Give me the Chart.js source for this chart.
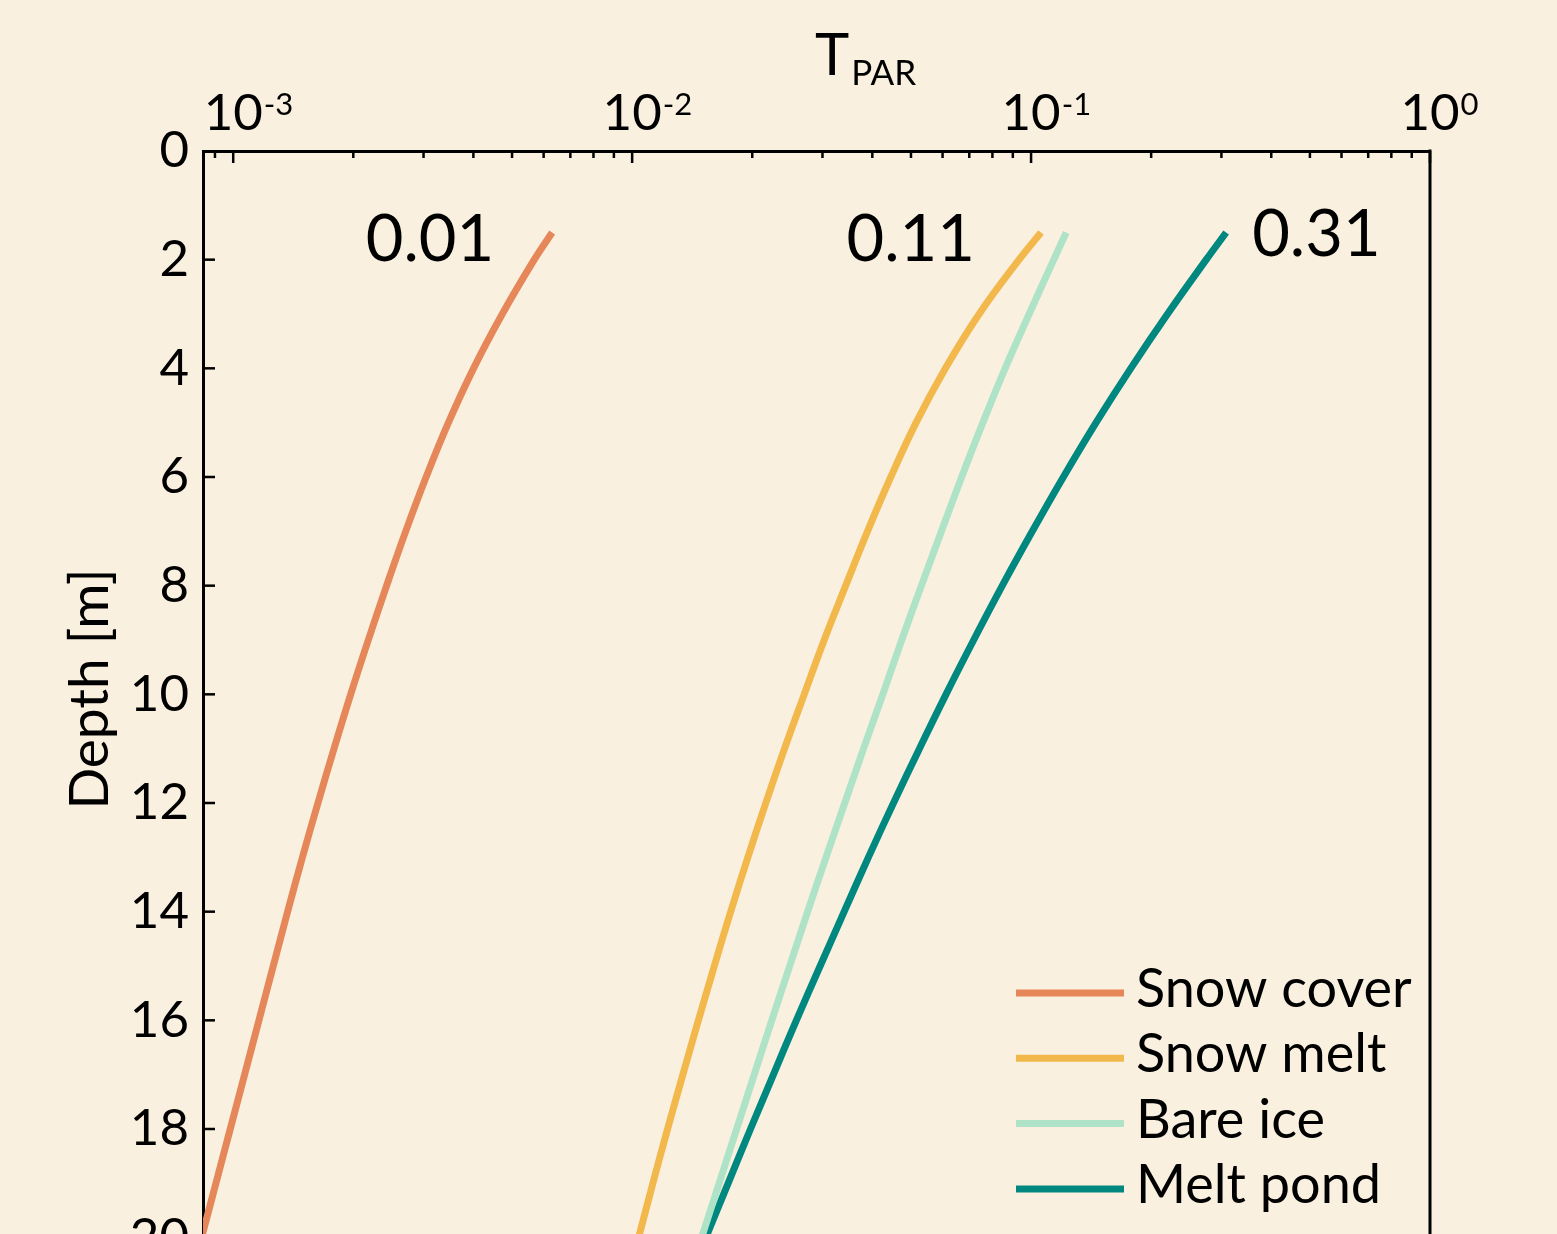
<!DOCTYPE html>
<html>
<head>
<meta charset="utf-8">
<title>Transmittance vs depth</title>
<script src="https://cdn.jsdelivr.net/npm/chart.js@4.4.1/dist/chart.umd.min.js"></script>
<style>
    html, body { margin: 0; padding: 0; background: #FAF0DF; overflow: hidden; }
    canvas { display: block; }
</style>
</head>
<body>
<canvas id="tparChart" width="1557" height="1455"></canvas>
<script>
// depth of each sample [m]
const depths = [1.5, 2, 3, 4, 5, 6, 7, 8, 9, 10, 11, 12, 13, 14, 15, 16, 17, 18, 19, 20];

// T_PAR for each surface type
const snowCover = [0.006302, 0.005683, 0.004726, 0.004004, 0.003463, 0.003045, 0.002706, 0.002424, 0.002181, 0.001970,
                   0.001789, 0.001631, 0.001491, 0.001369, 0.001260, 0.001160, 0.001068, 0.000983, 0.000905, 0.000833];
const snowMelt = [0.1059, 0.0933, 0.0741, 0.0610, 0.0515, 0.0445, 0.0389, 0.0343, 0.0303, 0.0270,
                  0.02410, 0.02163, 0.01950, 0.01766, 0.01607, 0.01466, 0.01340, 0.01227, 0.01127, 0.01038];
const bareIce = [0.1225, 0.1140, 0.0989, 0.0861, 0.0757, 0.0670, 0.0596, 0.0531, 0.0474, 0.0425,
                 0.03802, 0.03412, 0.03062, 0.02754, 0.02483, 0.02239, 0.02023, 0.01828, 0.01652, 0.01493];
const meltPond = [0.3083, 0.2748, 0.2198, 0.1778, 0.1455, 0.1205, 0.1007, 0.0847, 0.0718, 0.0612,
                  0.0525, 0.0452, 0.0391, 0.0340, 0.0296, 0.0258, 0.0226, 0.0198, 0.0174, 0.0153];

const seriesNames = ['Snow cover', 'Snow melt', 'Bare ice', 'Melt pond'];
const seriesColors = ['#E6875A', '#F3B84B', '#AEE3C8', '#00877F'];

// surface transmittance notes, and which series each one sits next to
const surfaceLabels = ['0.01', '0.11', '0.31'];
const surfaceLabelSeries = [0, 1, 3];

const depthTicks = [0, 2, 4, 6, 8, 10, 12, 14, 16, 18, 20];
const decadeExponents = [-3, -2, -1, 0];

const FONT = 'Lato';

function toPoints(values) {
    return depths.map((d, i) => ({ x: values[i], y: d }));
}

const allSeries = [snowCover, snowMelt, bareIce, meltPond];

// background, inward ticks, superscript labels, titles, legend, notes
const axisDecor = {
    id: 'axisDecor',
    beforeDraw(chart) {
        const ctx = chart.ctx;
        ctx.save();
        ctx.fillStyle = '#FAF0DF';
        ctx.fillRect(0, 0, chart.width, chart.height);
        ctx.restore();
    },
    afterDraw(chart) {
        const { ctx, chartArea: a, scales: { x, y } } = chart;
        ctx.save();
        ctx.strokeStyle = '#000';
        ctx.fillStyle = '#000';

        // right frame line
        ctx.lineWidth = 3;
        ctx.beginPath();
        ctx.moveTo(a.right, a.top - 1.5);
        ctx.lineTo(a.right, a.bottom);
        ctx.stroke();

        // x ticks, pointing down into the plot
        ctx.lineWidth = 2.5;
        for (let e = -4; e <= 0; e++) {
            for (let m = 1; m <= 9; m++) {
                const v = m * Math.pow(10, e);
                if (v < x.min * 0.999 || v > x.max * 1.001) continue;
                const px = x.getPixelForValue(v);
                const len = m === 1 ? 12 : 7;
                ctx.beginPath();
                ctx.moveTo(px, a.top);
                ctx.lineTo(px, a.top + len);
                ctx.stroke();
            }
        }

        // y ticks, pointing right into the plot
        depthTicks.forEach(v => {
            if (v === 0) return;
            const py = y.getPixelForValue(v);
            ctx.beginPath();
            ctx.moveTo(a.left, py);
            ctx.lineTo(a.left + 12, py);
            ctx.stroke();
        });

        // x tick labels 10^n
        ctx.textBaseline = 'alphabetic';
        decadeExponents.forEach(e => {
            const px = x.getPixelForValue(Math.pow(10, e));
            ctx.font = '51px ' + FONT;
            ctx.textAlign = 'center';
            ctx.fillText('10', px, a.top - 21);
            const w = ctx.measureText('10').width;
            ctx.font = '31px ' + FONT;
            ctx.textAlign = 'left';
            ctx.fillText(String(e), px + w / 2 + 1, a.top - 36);
        });

        // x title T_PAR
        const tx = a.left + 612;
        ctx.font = '58px ' + FONT;
        ctx.textAlign = 'left';
        ctx.fillText('T', tx, a.top - 76);
        const tw = ctx.measureText('T').width;
        ctx.font = '35px ' + FONT;
        ctx.fillText('PAR', tx + tw + 2, a.top - 66);

        // y title
        ctx.save();
        ctx.translate(108, 689);
        ctx.rotate(-Math.PI / 2);
        ctx.font = '55px ' + FONT;
        ctx.textAlign = 'center';
        ctx.fillText('Depth [m]', 0, 0);
        ctx.restore();

        // notes next to the top of the curves
        ctx.font = '65px ' + FONT;
        surfaceLabels.forEach((txt, i) => {
            const s = surfaceLabelSeries[i];
            const p = chart.getDatasetMeta(s).data[0];
            if (s === 3) {
                ctx.textAlign = 'left';
                ctx.fillText(txt, p.x + 26, p.y + 23);
            } else {
                ctx.textAlign = 'right';
                ctx.fillText(txt, p.x - (s === 0 ? 58 : 66), p.y + 28);
            }
        });

        // legend
        const lx = a.right - 414;
        chart.data.datasets.forEach((ds, i) => {
            const base = 1007 + i * 65.3;
            ctx.strokeStyle = ds.borderColor;
            ctx.lineWidth = 7;
            ctx.beginPath();
            ctx.moveTo(lx, base - 14);
            ctx.lineTo(lx + 108, base - 14);
            ctx.stroke();
            ctx.fillStyle = '#000';
            ctx.font = '54px ' + FONT;
            ctx.textAlign = 'left';
            ctx.fillText(ds.label, lx + 120, base);
        });

        ctx.restore();
    }
};

const ctx = document.getElementById('tparChart').getContext('2d');
const tparChart = new Chart(ctx, {
    type: 'line',
    data: {
        datasets: allSeries.map((vals, i) => ({
            label: seriesNames[i],
            data: toPoints(vals),
            borderColor: seriesColors[i],
            backgroundColor: seriesColors[i],
            borderWidth: 7,
            pointRadius: 0,
            tension: 0.4,
            fill: false
        }))
    },
    options: {
        responsive: false,
        animation: false,
        indexAxis: 'y',
        layout: {
            padding: { top: 0, right: 127, bottom: 0, left: 0 }
        },
        plugins: {
            legend: { display: false },
            tooltip: { enabled: false }
        },
        scales: {
            x: {
                type: 'logarithmic',
                position: 'top',
                min: 0.00084,
                max: 1,
                ticks: { display: false },
                grid: { drawOnChartArea: false, drawTicks: false },
                border: { display: true, color: '#000', width: 3 },
                afterFit: s => { s.height = 151; s.paddingLeft = 0; s.paddingRight = 0; }
            },
            y: {
                type: 'linear',
                reverse: true,
                min: 0,
                max: 24,
                afterBuildTicks: s => { s.ticks = depthTicks.map(v => ({ value: v })); },
                ticks: {
                    color: '#000',
                    font: { family: FONT, size: 51 },
                    padding: 14
                },
                grid: { drawOnChartArea: false, drawTicks: false },
                border: { display: true, color: '#000', width: 3 },
                afterFit: s => { s.width = 203; s.paddingTop = 0; s.paddingBottom = 0; }
            }
        }
    },
    plugins: [axisDecor]
});
</script>
</body>
</html>
